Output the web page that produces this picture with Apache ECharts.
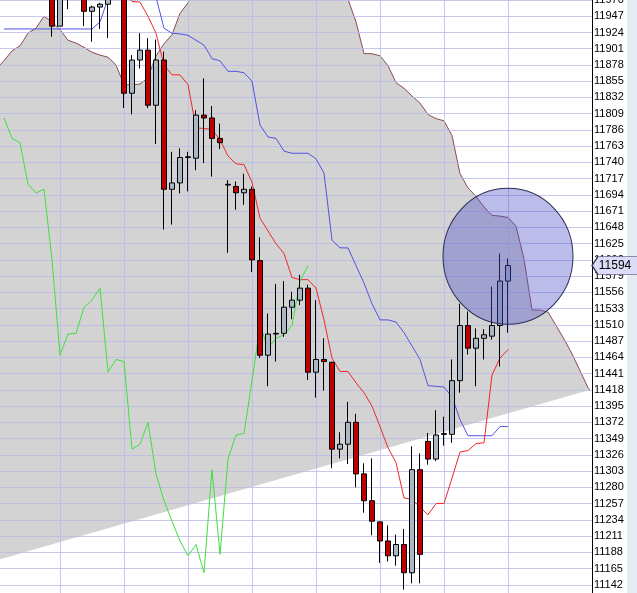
<!DOCTYPE html>
<html><head><meta charset="utf-8">
<script src="https://cdn.jsdelivr.net/npm/echarts@6/dist/echarts.min.js"></script>
<style>html,body{margin:0;padding:0;background:#fff}#c{width:637px;height:593px}</style>
</head><body><div id="c"></div>
<script>
// ---- data ----
const categories = Array.from({length: 74}, (_, i) => 'P' + (i + 1));
const opens  = [11985,11992,11988,11995,11990,11996,11995,11933,11990,11985,11990,11954,11960,11964,11980,11986,11838,11885,11899,11821,11885,11702,11711,11747,11746,11807,11803,11774,11708,11706,11697,11702,11601,11467,11497,11498,11535,11545,11562,11443,11461,11457,11334,11341,11372,11299,11261,11231,11204,11183,11199,11159,11305,11345,11320,11355,11355,11431,11509,11477,11491,11494,11509,11572];
const closes = [11992,11988,11995,11990,11996,11992,11933,11990,11985,11992,11954,11960,11964,11980,11988,11838,11885,11899,11821,11885,11702,11711,11747,11748,11807,11803,11774,11768,11709,11697,11702,11602,11467,11497,11498,11535,11545,11562,11443,11461,11458,11334,11341,11372,11299,11261,11232,11204,11183,11199,11159,11305,11185,11320,11354,11356,11431,11509,11477,11491,11496,11509,11572,11594];
const lows   = [11978,11980,11981,11982,11984,11980,11918,11933,11957,11975,11933,11911,11929,11916,11974,11817,11808,11873,11817,11766,11645,11652,11696,11699,11729,11739,11720,11759,11612,11673,11680,11585,11463,11423,11458,11493,11518,11538,11432,11407,11417,11307,11321,11313,11280,11244,11212,11173,11175,11169,11135,11144,11144,11312,11317,11339,11343,11414,11468,11423,11461,11489,11451,11499];
const highs  = [11998,12000,12002,12001,12004,12003,12000,11998,11998,11999,11998,11962,11966,11988,11995,11995,11892,11923,11916,11914,11897,11755,11760,11755,11814,11859,11820,11795,11715,11713,11724,11706,11634,11526,11568,11572,11557,11581,11567,11545,11491,11458,11358,11401,11384,11314,11321,11232,11226,11213,11221,11338,11328,11357,11389,11380,11461,11540,11529,11505,11504,11564,11611,11604];

const tenkan = [null,null,null,null,null,null,null,null,null,null,null,null,null,null,null,11982,11968,11967,11947,11923,11878,11864,11864,11850,11789,11788,11787,11772,11749,11738,11737,11712,11661,11643,11625,11611,11577,11574,11574,11562,11517,11463,11444,11444,11428,11414,11395,11366,11336,11315,11265,11263,11252,11241,11257,11257,11293,11330,11332,11342,11343,11439,11463,11475];
const kijun  = [11929,11929,11929,11929,11929,11929,11929,11929,11929,11929,11929,11929,11939,11972,11990,11990,11990,11990,11990,11974,11930,11923,11922,11920,11913,11906,11887,11884,11869,11869,11867,11855,11793,11776,11774,11756,11753,11753,11753,11745,11725,11630,11619,11619,11594,11569,11540,11517,11517,11514,11499,11480,11461,11424,11423,11422,11408,11376,11353,11353,11353,11353,11366,11366];
const chikou = [11803,11774,11768,11709,11697,11702,11602,11467,11497,11498,11535,11545,11562,11443,11461,11458,11334,11341,11372,11299,11261,11232,11204,11183,11199,11159,11305,11185,11320,11354,11356,11431,11509,11477,11491,11496,11509,11572,11594];
const spanB  = [11884,11898,11905,11923,11930,11947,11939,11928,11913,11909,11903,11896,11892,11889,11878,11850,11850,11851,11860,11891,11908,11921,11951,11966,11990,11990,11990,11990,11990,11990,11990,11990,11990,11990,11990,11990,11990,11990,11990,11990,11990,11990,11990,11971,11939,11894,11894,11891,11877,11853,11845,11834,11824,11808,11802,11799,11778,11724,11704,11692,11677,11665,11664,11662,11650,11603,11531,11531,11528,11509,11490,11469,11445,11421];
const spanBEdges = [11878, 11415];          // value at the left and right plot edges
const lowerLine  = [11178, 11419];          // straight lower boundary, left edge -> right edge
const circleMark = [63, 11607];             // highlight circle centre (index, value)
const lastPrice  = 11594;
const yTickStart = 11119, yTickEnd = 11970, yTickStep = 23;

// ---- build series data ----
const candleData = opens.map((o, i) => [o, closes[i], lows[i], highs[i]]);
const pairs = arr => arr.map((v, i) => v == null ? null : [i, v]).filter(p => p);
const cloudData = [[-0.5, spanBEdges[0]]].concat(pairs(spanB), [[73.5, spanBEdges[1]]]);
const baseData = [[-0.5, lowerLine[0]], [73.5, lowerLine[1]]];

const FONT = 'Liberation Sans';
const gridLineColor = 'rgba(186,186,232,0.8)';

const chart = echarts.init(document.getElementById('c'), null, {renderer: 'canvas'});
chart.setOption({
  animation: false,
  backgroundColor: '#ffffff',
  grid: [
    {left: 0, top: 0, width: 592, height: 601, containLabel: false, outerBoundsMode: 'none'},
    {left: -4, top: 0, width: 512, height: 601, containLabel: false, outerBoundsMode: 'none'}
  ],
  xAxis: [
    {type: 'category', gridIndex: 0, data: categories, boundaryGap: true, show: false},
    {type: 'value', gridIndex: 0, min: -0.5, max: 73.5, show: false, axisLine: {onZero: false}},
    {type: 'value', gridIndex: 1, min: -1, max: 63, interval: 8,
     axisLine: {show: false, onZero: false}, axisTick: {show: false}, axisLabel: {show: false},
     splitLine: {show: true, lineStyle: {color: gridLineColor, width: 1}}, z: 2}
  ],
  yAxis: [
    {type: 'value', gridIndex: 0, position: 'right', min: yTickStart, max: yTickEnd, interval: yTickStep,
     axisLine: {show: true, onZero: false, lineStyle: {color: '#000', width: 1}},
     axisTick: {show: false},
     axisLabel: {show: true, margin: 2, color: '#000', fontFamily: FONT, fontSize: 11,
                 formatter: v => String(Math.round(v))},
     splitLine: {show: true, lineStyle: {color: gridLineColor, width: 1}}, z: 2},
    {type: 'value', gridIndex: 1, show: false, axisLine: {show: false, onZero: false}, splitLine: {show: false}}
  ],
  graphic: [
    {type: 'rect', left: 627, top: 0, shape: {width: 10, height: 593}, style: {fill: '#e4ebf2'}, z: 1, silent: true}
  ],
  series: [
    {type: 'line', xAxisIndex: 1, yAxisIndex: 0, data: cloudData, symbol: 'none', silent: true,
     lineStyle: {color: '#8a4e4e', width: 1}, areaStyle: {color: '#d3d3d3', origin: 'start', opacity: 1}, z: 0},
    {type: 'line', xAxisIndex: 1, yAxisIndex: 0, data: baseData, symbol: 'none', silent: true,
     lineStyle: {width: 0, opacity: 0}, areaStyle: {color: '#ffffff', origin: 'start', opacity: 1}, z: 1},
    {type: 'line', xAxisIndex: 1, yAxisIndex: 0, data: pairs(kijun), symbol: 'none', silent: true,
     lineStyle: {color: '#5252e8', width: 1}, z: 3},
    {type: 'line', xAxisIndex: 1, yAxisIndex: 0, data: pairs(tenkan), symbol: 'none', silent: true,
     lineStyle: {color: '#f02828', width: 1}, z: 3},
    {type: 'line', xAxisIndex: 1, yAxisIndex: 0, data: pairs(chikou), symbol: 'none', silent: true,
     lineStyle: {color: '#3ee03e', width: 1}, z: 3},
    {type: 'candlestick', xAxisIndex: 0, yAxisIndex: 0, data: candleData, barWidth: 5, silent: true,
     itemStyle: {color: '#aab8c6', color0: '#c00000', borderColor: '#000', borderColor0: '#000',
                 borderColorDoji: '#000', borderWidth: 1}, z: 4},
    {type: 'scatter', xAxisIndex: 1, yAxisIndex: 0, data: [circleMark], symbol: 'circle',
     symbolSize: [130, 136], silent: true,
     itemStyle: {color: 'rgba(80,80,200,0.38)', borderColor: '#2a2a55', borderWidth: 1, opacity: 1}, z: 5,
     markPoint: {
       silent: true,
       symbol: 'path://M0,9 L6,0 L48,0 L48,18 L6,18 Z',
       symbolSize: [48, 18], symbolKeepAspect: false, symbolOffset: [24, 0],
       itemStyle: {color: '#dcdcf8', borderColor: '#34345a', borderWidth: 1},
       label: {show: true, position: 'inside', formatter: String(lastPrice), color: '#000',
               fontFamily: FONT, fontSize: 12, offset: [-1, 0]},
       data: [{coord: [73.5, lastPrice]}]
     }}
  ]
});
</script>
</body></html>
